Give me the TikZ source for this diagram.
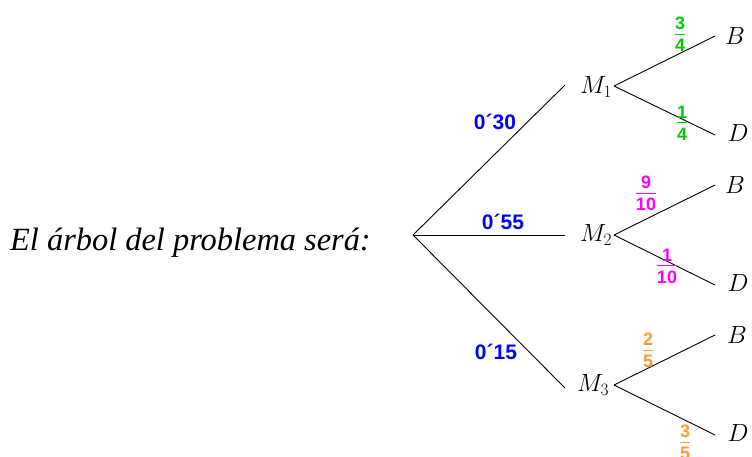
\documentclass[tikz,border=0pt]{standalone}
\usepackage{fontspec}
\setmainfont{Liberation Serif}
\newfontfamily\arialb{Liberation Sans}[BoldFont={* Bold}]
\definecolor{pblue}{RGB}{0,0,255}
\definecolor{pgreen}{RGB}{0,204,0}
\definecolor{pmag}{RGB}{255,0,255}
\definecolor{porange}{RGB}{255,153,51}
\newcommand{\pfr}[2]{$\displaystyle\frac{\hbox{\arialb\bfseries\fontsize{18}{20}\selectfont\rule[-3pt]{0pt}{0pt}#1}}{\hbox{\arialb\bfseries\fontsize{18}{20}\selectfont\rule{0pt}{16pt}#2}}$}
\begin{document}
\begin{tikzpicture}[x=1pt,y=-1pt,
  br/.style={line width=0.9pt, black},
  mlab/.style={font=\fontsize{25.5}{28}\selectfont, inner sep=0pt},
  leaf/.style={font=\fontsize{25.5}{28}\selectfont, inner sep=0pt},
  plab/.style={font=\arialb\bfseries\fontsize{21}{24}\selectfont, text=pblue, inner sep=0pt},
  frlab/.style={inner sep=0pt}]
\useasboundingbox (0,0) rectangle (752,456);
\node[anchor=base west, font=\itshape\fontsize{32.4}{36}\selectfont, inner sep=0pt] (title) at (10,250) {El árbol del problema será:};
\coordinate (r) at (413,235);
\coordinate (a1) at (565,85);
\coordinate (a2) at (565,235);
\coordinate (a3) at (565,388);
\coordinate (o1) at (614,86);
\coordinate (o2) at (614,235);
\coordinate (o3) at (614,385);
\coordinate (b1) at (715,36);
\coordinate (d1) at (715,135);
\coordinate (b2) at (715,185);
\coordinate (d2) at (715,285);
\coordinate (b3) at (715,335);
\coordinate (d3) at (715,435);
\node[mlab] (M1) at (596,87) {$M_1$};
\node[mlab] (M2) at (596,235) {$M_2$};
\node[mlab] (M3) at (593,385) {$M_3$};
\node[leaf] (B1) at (735,36) {$B$};
\node[leaf] (D1) at (738,133) {$D$};
\node[leaf] (B2) at (735,185) {$B$};
\node[leaf] (D2) at (738,283) {$D$};
\node[leaf] (B3) at (737,335) {$B$};
\node[leaf] (D3) at (738,433) {$D$};
\draw[br] (r) -- (a1);
\draw[br] (r) -- (a2);
\draw[br] (r) -- (a3);
\draw[br] (o1) -- (b1);
\draw[br] (o1) -- (d1);
\draw[br] (o2) -- (b2);
\draw[br] (o2) -- (d2);
\draw[br] (o3) -- (b3);
\draw[br] (o3) -- (d3);
\node[plab] (p1) at (495,122) {0´30};
\node[plab] (p2) at (503,222) {0´55};
\node[plab] (p3) at (496,352) {0´15};
\node[frlab, text=pgreen] (f1) at (680,34) {\pfr{3}{4}};
\node[frlab, text=pgreen] (f2) at (682,123) {\pfr{1}{4}};
\node[frlab, text=pmag] (f3) at (646,193) {\pfr{9}{10}};
\node[frlab, text=pmag] (f4) at (667,266) {\pfr{1}{10}};
\node[frlab, text=porange] (f5) at (648,350) {\pfr{2}{5}};
\node[frlab, text=porange] (f6) at (685,442) {\pfr{3}{5}};
\end{tikzpicture}
\end{document}
